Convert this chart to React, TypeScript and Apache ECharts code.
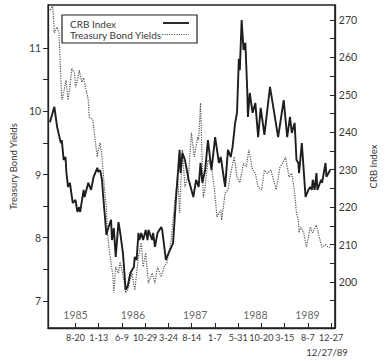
import React, { useEffect, useRef } from "react";
import * as echarts from "echarts";

// x values are trading-day indexes counted from the left edge of the plot
const tickDays = [118, 218, 318, 418, 518, 618, 718, 818, 918, 1018, 1118, 1218];
const tickLabels = ["8-20", "1-13", "6-9", "10-29", "3-24", "8-14", "1-7", "5-31", "10-20", "3-15", "8-7", "12-27"];
const yearLabels = ["1985", "1986", "1987", "1988", "1989"];
const yearDays = [118, 365, 633, 892, 1116];

const yieldTicks = [7, 7.5, 8, 8.5, 9, 9.5, 10, 10.5, 11];
const yieldLabels = [7, 8, 9, 10, 11];
const crbTicks = [195, 200, 205, 210, 215, 220, 225, 230, 235, 240, 245, 250, 255, 260, 265, 270];
const crbLabels = [200, 210, 220, 230, 240, 250, 260, 270];

const treasuryDays = [8, 20, 27, 39, 47, 59, 67, 77, 86, 94, 102, 114, 118, 126, 134, 145, 153, 157, 173, 177, 193, 196, 204, 212, 216, 224, 232, 244, 251, 255, 263, 271, 279, 283, 291, 303, 310, 322, 334, 342, 361, 373, 389, 401, 409, 420, 432, 448, 460, 471, 487, 499, 511, 530, 546, 558, 566, 578, 589, 605, 617, 629, 644, 648, 656, 664, 668, 676, 688, 703, 715, 727, 743, 747, 762, 774, 786, 801, 813, 825, 841, 853, 864, 880, 892, 904, 919, 931, 943, 959, 982, 998, 1010, 1022, 1037, 1049, 1061, 1069, 1077, 1080, 1088, 1100, 1112, 1128, 1139, 1155, 1167, 1179, 1194, 1206, 1218];
const treasuryYields = [11.6, 11.66, 11.24, 11.33, 11.24, 10.18, 10.29, 10.49, 10.18, 10.38, 10.68, 10.6, 10.38, 10.49, 10.65, 10.46, 10.53, 10.45, 10.18, 9.91, 9.86, 9.75, 9.5, 9.28, 9.39, 9.5, 9.28, 8.71, 8.49, 8.08, 7.81, 7.6, 7.38, 7.13, 7.54, 7.44, 7.62, 7.41, 7.13, 7.17, 7.44, 7.17, 7.7, 7.92, 7.54, 7.76, 7.28, 7.44, 7.28, 7.54, 7.38, 7.54, 7.6, 7.96, 8.6, 8.96, 8.39, 9.39, 8.8, 9.02, 9.66, 9.28, 9.59, 9.55, 10.13, 9.12, 8.64, 8.8, 9.23, 9.12, 8.8, 8.33, 8.44, 8.28, 8.71, 8.76, 9.02, 9.28, 8.96, 8.87, 9.18, 9.12, 9.39, 9.07, 9.02, 8.8, 8.76, 9.07, 9.02, 9.07, 8.76, 9.12, 9.18, 9.28, 8.96, 9.02, 8.71, 8.39, 8.28, 8.08, 8.17, 8.08, 7.85, 8.17, 8.08, 8.2, 8.01, 7.85, 7.89, 7.85, 7.85];

const crbDays = [8, 27, 39, 55, 59, 67, 75, 79, 86, 94, 106, 118, 126, 134, 138, 153, 157, 173, 185, 196, 212, 216, 224, 232, 236, 244, 251, 259, 271, 275, 283, 291, 303, 310, 322, 334, 342, 354, 369, 373, 381, 389, 393, 401, 409, 420, 428, 432, 448, 452, 460, 471, 487, 491, 507, 519, 538, 550, 566, 570, 578, 589, 605, 617, 625, 637, 648, 656, 664, 676, 688, 703, 719, 735, 743, 762, 774, 786, 794, 805, 813, 821, 825, 833, 841, 849, 857, 860, 868, 880, 892, 904, 915, 931, 955, 990, 1014, 1029, 1041, 1049, 1061, 1069, 1077, 1080, 1092, 1108, 1120, 1128, 1135, 1139, 1147, 1155, 1159, 1175, 1179, 1194, 1198, 1214];
const crbIndex = [242.7, 246.8, 241.4, 237.1, 237.9, 232.6, 233.4, 229.1, 225.4, 226.5, 221.1, 221.9, 218.7, 220.0, 218.7, 224.6, 222.7, 226.5, 224.6, 228.1, 230.5, 229.4, 229.9, 227.3, 223.8, 217.9, 212.6, 214.4, 216.6, 211.2, 214.4, 206.7, 216.0, 213.4, 207.8, 197.9, 198.7, 202.4, 204.0, 206.7, 205.9, 213.1, 211.2, 213.1, 211.2, 213.9, 211.2, 213.9, 211.2, 213.1, 209.4, 213.1, 214.7, 213.9, 205.9, 207.8, 210.4, 221.9, 235.3, 229.1, 234.5, 232.6, 227.3, 224.6, 222.7, 227.3, 225.4, 231.8, 226.5, 229.9, 237.9, 229.9, 238.7, 231.8, 233.4, 225.4, 235.3, 233.4, 236.1, 242.5, 245.2, 259.6, 256.6, 270.0, 262.0, 263.9, 251.3, 244.1, 250.5, 245.2, 247.8, 238.7, 246.5, 239.3, 252.1, 238.7, 248.6, 238.7, 244.1, 239.8, 242.5, 232.6, 231.8, 229.1, 237.1, 222.7, 224.6, 225.4, 224.6, 227.3, 224.6, 229.1, 224.6, 227.3, 226.5, 231.8, 228.1, 229.9];

const FONT = "Lato";
const TXT = "#3a3a3a";
const INK = "#222";

export default function App() {
  const ref = useRef<HTMLDivElement>(null);
  useEffect(() => {
    if (!ref.current) return;
    document.body.style.margin = "0";
    const chart = echarts.init(ref.current, undefined, { renderer: "svg" });
    const treasury = treasuryDays.map((d, i) => [d, treasuryYields[i]]);
    const crb = crbDays.map((d, i) => [d, crbIndex[i]]);
    const years = yearDays.map((d, i) => ({ value: [d, 6.78], name: yearLabels[i] }));
    chart.setOption({
      animation: false,
      backgroundColor: "#fff",
      textStyle: { fontFamily: FONT },
      grid: { left: 31, right: 41, top: 5, bottom: 33, show: true, borderColor: INK, borderWidth: 1.3, backgroundColor: "transparent" },
      xAxis: {
        type: "value",
        min: 0,
        max: 1234,
        splitLine: { show: false },
        axisLine: { lineStyle: { color: INK, width: 1.3 } },
        axisTick: { inside: true, length: 5, customValues: tickDays, lineStyle: { color: INK } },
        axisLabel: {
          customValues: tickDays,
          color: TXT,
          fontSize: 9,
          fontFamily: FONT,
          margin: 5,
          hideOverlap: false,
          formatter: (v: number) => tickLabels[tickDays.indexOf(Math.round(v))] ?? "",
        },
      },
      yAxis: [
        {
          type: "value",
          position: "left",
          min: 6.573,
          max: 11.68,
          splitLine: { show: false },
          axisLine: { show: true, lineStyle: { color: INK, width: 1.3 } },
          axisTick: { show: true, length: 5, customValues: yieldTicks, lineStyle: { color: INK } },
          axisLabel: { customValues: yieldLabels, color: TXT, fontSize: 10.5, fontFamily: FONT, margin: 7 },
          name: "Treasury Bond Yields",
          nameLocation: "middle",
          nameRotate: 90,
          nameGap: 20,
          nameTextStyle: { color: TXT, fontSize: 9.5, fontFamily: FONT },
        },
        {
          type: "value",
          position: "right",
          min: 187.7,
          max: 274,
          splitLine: { show: false },
          axisLine: { show: true, lineStyle: { color: INK, width: 1.3 } },
          axisTick: { show: true, inside: true, length: 5, customValues: crbTicks, lineStyle: { color: INK } },
          axisLabel: { customValues: crbLabels, color: TXT, fontSize: 10.5, fontFamily: FONT, margin: 4 },
          name: "CRB Index",
          nameLocation: "middle",
          nameRotate: 90,
          nameGap: 30,
          nameTextStyle: { color: TXT, fontSize: 9.5, fontFamily: FONT },
        },
      ],
      series: [
        {
          name: "Treasury Bond Yields",
          type: "line",
          yAxisIndex: 0,
          data: treasury,
          showSymbol: false,
          symbol: "none",
          lineStyle: { color: "#555", width: 1.2, type: [1.2, 1.2] },
        },
        {
          name: "CRB Index",
          type: "line",
          yAxisIndex: 1,
          data: crb,
          showSymbol: false,
          symbol: "none",
          lineStyle: { color: "#1e1e1e", width: 1.9 },
        },
        {
          name: "years",
          type: "scatter",
          yAxisIndex: 0,
          data: years,
          symbolSize: 0,
          silent: true,
          label: {
            show: true,
            position: "inside",
            formatter: (p: any) => p.name,
            color: TXT,
            fontSize: 10.5,
            fontFamily: FONT,
          },
        },
      ],
      graphic: [
        { type: "rect", shape: { x: 62, y: 15, width: 135, height: 28 }, style: { fill: "#fff", stroke: INK, lineWidth: 1.2 }, z: 10 },
        { type: "text", x: 70, y: 24, style: { text: "CRB Index", fill: TXT, font: `10px ${FONT}`, textVerticalAlign: "middle" }, z: 11 },
        { type: "text", x: 70, y: 35, style: { text: "Treasury Bond Yields", fill: TXT, font: `10px ${FONT}`, textVerticalAlign: "middle" }, z: 11 },
        { type: "line", shape: { x1: 163, y1: 23, x2: 189, y2: 23 }, style: { stroke: "#1e1e1e", lineWidth: 1.9 }, z: 11 },
        { type: "line", shape: { x1: 162, y1: 34.5, x2: 189, y2: 34.5 }, style: { stroke: "#555", lineWidth: 1.2, lineDash: [1.2, 1.2] }, z: 11 },
        { type: "text", x: 327, y: 352, style: { text: "12/27/89", fill: TXT, font: `9.5px ${FONT}`, textAlign: "center", textVerticalAlign: "middle" } },
      ],
    });
    return () => chart.dispose();
  }, []);
  return <div ref={ref} style={{ width: 386, height: 361, position: "absolute", left: 0, top: 0 }} />;
}
